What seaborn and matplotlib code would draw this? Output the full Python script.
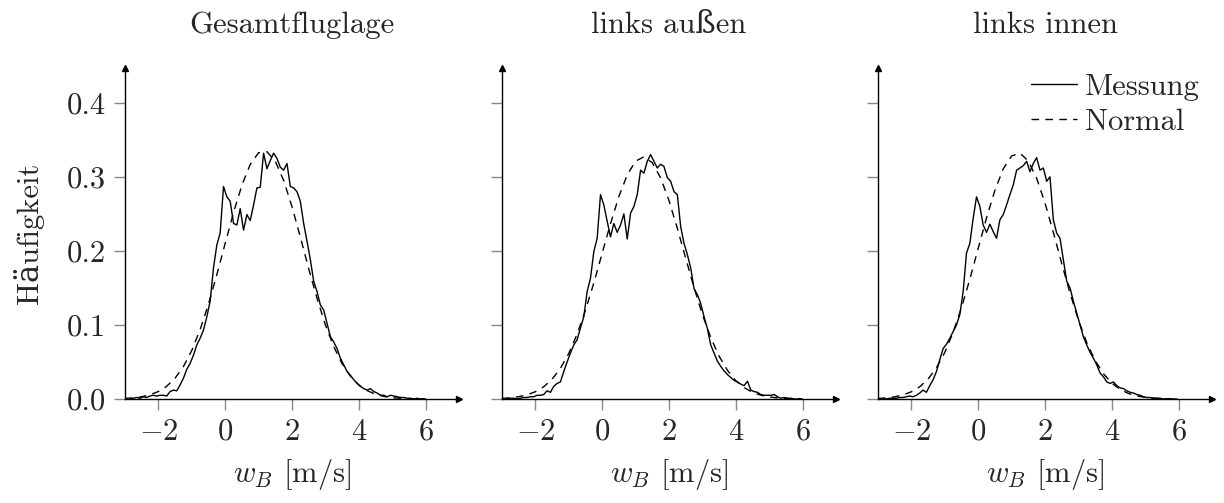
import numpy as np
import pandas as pd
import matplotlib
matplotlib.use("Agg")
import matplotlib.pyplot as plt
import seaborn as sns

# ---------------- data ----------------
titles = ["Gesamtfluglage", "links außen", "links innen"]
series_names = ["Messung", "Normal"]
x_ticks = [-2, 0, 2, 4, 6]
y_ticks = [0.0, 0.1, 0.2, 0.3, 0.4]
y_ticklabels = ["0.0", "0.1", "0.2", "0.3", "0.4"]

# bin centres of the measured histograms [m/s]
w_bins = [
    -2.85, -2.75, -2.65, -2.55, -2.45, -2.35, -2.25, -2.15, -2.05, -1.95,
    -1.85, -1.75, -1.65, -1.55, -1.45, -1.35, -1.25, -1.15, -1.05, -0.95,
    -0.85, -0.75, -0.65, -0.55, -0.45, -0.35, -0.25, -0.15, -0.05, 0.05,
    0.15, 0.25, 0.35, 0.45, 0.55, 0.65, 0.75, 0.85, 0.95, 1.05,
    1.15, 1.25, 1.35, 1.45, 1.55, 1.65, 1.75, 1.85, 1.95, 2.05,
    2.15, 2.25, 2.35, 2.45, 2.55, 2.65, 2.75, 2.85, 2.95, 3.05,
    3.15, 3.25, 3.35, 3.45, 3.55, 3.65, 3.75, 3.85, 3.95, 4.05,
    4.15, 4.25, 4.35, 4.45, 4.55, 4.65, 4.75, 4.85, 4.95, 5.05,
    5.15, 5.25, 5.35, 5.45, 5.55, 5.65, 5.75, 5.85, 5.95,
]

mess_gesamt = [
    0.000, 0.001, 0.002, 0.001, 0.003, 0.002, 0.004, 0.005, 0.004, 0.005,
    0.005, 0.004, 0.010, 0.012, 0.011, 0.019, 0.028, 0.040, 0.048, 0.059,
    0.073, 0.082, 0.093, 0.111, 0.132, 0.177, 0.208, 0.224, 0.287, 0.273,
    0.267, 0.237, 0.235, 0.257, 0.228, 0.249, 0.241, 0.262, 0.285, 0.286,
    0.332, 0.311, 0.322, 0.332, 0.325, 0.313, 0.309, 0.318, 0.287, 0.285,
    0.280, 0.267, 0.237, 0.213, 0.188, 0.159, 0.145, 0.127, 0.120, 0.102,
    0.084, 0.077, 0.068, 0.055, 0.046, 0.037, 0.032, 0.026, 0.021, 0.017,
    0.014, 0.012, 0.014, 0.010, 0.008, 0.005, 0.005, 0.003, 0.005, 0.004,
    0.003, 0.002, 0.002, 0.001, 0.001, 0.000, 0.001, 0.000, 0.000,
]
mess_aussen = [
    0.000, 0.001, 0.001, 0.000, 0.001, 0.002, 0.002, 0.003, 0.003, 0.005,
    0.005, 0.006, 0.011, 0.009, 0.017, 0.021, 0.023, 0.037, 0.050, 0.062,
    0.073, 0.080, 0.096, 0.111, 0.145, 0.163, 0.199, 0.217, 0.276, 0.262,
    0.240, 0.219, 0.237, 0.225, 0.235, 0.250, 0.216, 0.251, 0.260, 0.276,
    0.309, 0.305, 0.321, 0.330, 0.321, 0.312, 0.317, 0.314, 0.299, 0.294,
    0.280, 0.276, 0.233, 0.210, 0.195, 0.177, 0.149, 0.141, 0.129, 0.111,
    0.095, 0.073, 0.062, 0.051, 0.044, 0.038, 0.033, 0.029, 0.025, 0.023,
    0.020, 0.018, 0.024, 0.012, 0.010, 0.009, 0.006, 0.005, 0.005, 0.005,
    0.006, 0.003, 0.001, 0.002, 0.001, 0.001, 0.000, 0.000, 0.000,
]
mess_innen = [
    0.000, 0.000, 0.001, 0.001, 0.001, 0.002, 0.002, 0.003, 0.004, 0.003,
    0.005, 0.008, 0.012, 0.009, 0.018, 0.026, 0.037, 0.053, 0.068, 0.074,
    0.082, 0.091, 0.100, 0.114, 0.145, 0.197, 0.210, 0.244, 0.273, 0.260,
    0.235, 0.225, 0.236, 0.226, 0.217, 0.242, 0.249, 0.262, 0.276, 0.289,
    0.309, 0.312, 0.315, 0.321, 0.307, 0.318, 0.326, 0.309, 0.312, 0.294,
    0.300, 0.242, 0.224, 0.217, 0.188, 0.159, 0.150, 0.132, 0.116, 0.100,
    0.084, 0.073, 0.063, 0.055, 0.046, 0.035, 0.030, 0.023, 0.021, 0.023,
    0.018, 0.015, 0.014, 0.011, 0.009, 0.008, 0.006, 0.005, 0.003, 0.002,
    0.002, 0.001, 0.001, 0.001, 0.000, 0.000, 0.000, 0.000, 0.000,
]

# sample points of the fitted normal curves
w_norm = [
    -3.0, -2.75, -2.5, -2.25, -2.0, -1.75, -1.5, -1.25, -1.0, -0.75,
    -0.5, -0.25, 0.0, 0.25, 0.5, 0.75, 1.0, 1.25, 1.5, 1.75,
    2.0, 2.25, 2.5, 2.75, 3.0, 3.25, 3.5, 3.75, 4.0, 4.25,
    4.5, 4.75, 5.0, 5.25, 5.5, 5.75, 6.0,
]
norm_gesamt = [
    0.0008, 0.0016, 0.0030, 0.0057, 0.0101, 0.0172, 0.0281, 0.0438, 0.0655, 0.0937,
    0.1282, 0.1678, 0.2101, 0.2518, 0.2887, 0.3168, 0.3326, 0.3340, 0.3210, 0.2952,
    0.2597, 0.2187, 0.1761, 0.1358, 0.1001, 0.0707, 0.0477, 0.0308, 0.0190, 0.0113,
    0.0064, 0.0035, 0.0018, 0.0009, 0.0004, 0.0002, 0.0001,
]
norm_aussen = [
    0.0008, 0.0016, 0.0031, 0.0056, 0.0098, 0.0165, 0.0267, 0.0414, 0.0615, 0.0876,
    0.1197, 0.1567, 0.1968, 0.2368, 0.2734, 0.3026, 0.3212, 0.3270, 0.3191, 0.2986,
    0.2680, 0.2305, 0.1902, 0.1505, 0.1141, 0.0830, 0.0579, 0.0387, 0.0248, 0.0153,
    0.0090, 0.0051, 0.0028, 0.0014, 0.0007, 0.0003, 0.0002,
]
norm_innen = [
    0.0007, 0.0015, 0.0029, 0.0055, 0.0097, 0.0165, 0.0269, 0.0421, 0.0629, 0.0900,
    0.1233, 0.1618, 0.2033, 0.2446, 0.2817, 0.3108, 0.3282, 0.3320, 0.3215, 0.2981,
    0.2647, 0.2250, 0.1832, 0.1428, 0.1066, 0.0762, 0.0521, 0.0341, 0.0214, 0.0129,
    0.0074, 0.0041, 0.0022, 0.0011, 0.0005, 0.0002, 0.0001,
]

mess_all = [mess_gesamt, mess_aussen, mess_innen]
norm_all = [norm_gesamt, norm_aussen, norm_innen]

# ---------------- style ----------------
sns.set_theme(style="white")
plt.rcParams["font.family"] = ["cmr10", "DejaVu Serif"]
plt.rcParams["mathtext.fontset"] = "cm"
plt.rcParams["axes.formatter.use_mathtext"] = True
plt.rcParams["axes.unicode_minus"] = True

FS = 22
fig = plt.figure(figsize=(12.24, 5.03), dpi=100)
lefts = [0.1021, 0.4101, 0.7173]
bottom, width, height = 0.2068, 0.2729, 0.658

for i in range(3):
    ax = fig.add_axes([lefts[i], bottom, width, height])
    df_m = pd.DataFrame({"w": w_bins, "f": mess_all[i]})
    df_n = pd.DataFrame({"w": w_norm, "f": norm_all[i]})
    sns.lineplot(data=df_m, x="w", y="f", ax=ax, color="black", lw=1.0,
                 label=series_names[0], legend=False)
    sns.lineplot(data=df_n, x="w", y="f", ax=ax, color="black", lw=1.0,
                 linestyle=(0, (5.5, 4.5)), label=series_names[1], legend=False)

    ax.set_xlim(-3, 7)
    ax.set_ylim(0, 0.447)
    for s in ["top", "right"]:
        ax.spines[s].set_visible(False)
    for s in ["left", "bottom"]:
        ax.spines[s].set_color("black")
        ax.spines[s].set_linewidth(1.0)
    ax.plot(1, 0, ">", color="black", ms=5, transform=ax.transAxes, clip_on=False)
    ax.plot(0, 1, "^", color="black", ms=5, transform=ax.transAxes, clip_on=False)

    ax.set_xticks(x_ticks)
    ax.set_xticklabels([r"$%d$" % t for t in x_ticks])
    ax.set_yticks(y_ticks)
    if i == 0:
        ax.set_yticklabels(y_ticklabels)
        ax.set_ylabel("Häufigkeit", fontsize=FS, labelpad=16)
    else:
        ax.set_yticklabels([])
        ax.set_ylabel("")
    ax.tick_params(axis="both", direction="out", length=8, width=1.0,
                   color="#888888", labelsize=FS, pad=6, left=True, bottom=True)
    ax.set_xlabel(r"$w_B$ [m/s]", fontsize=FS, labelpad=8)
    ax.set_title(titles[i], fontsize=FS, pad=25)
    ax.grid(False)

    if i == 2:
        ax.legend(loc="upper right", bbox_to_anchor=(1.0, 1.02), frameon=False,
                  fontsize=FS, handlelength=1.5, handletextpad=0.25,
                  labelspacing=0.25, borderaxespad=0.0)

fig.savefig("out.png", dpi=100)
